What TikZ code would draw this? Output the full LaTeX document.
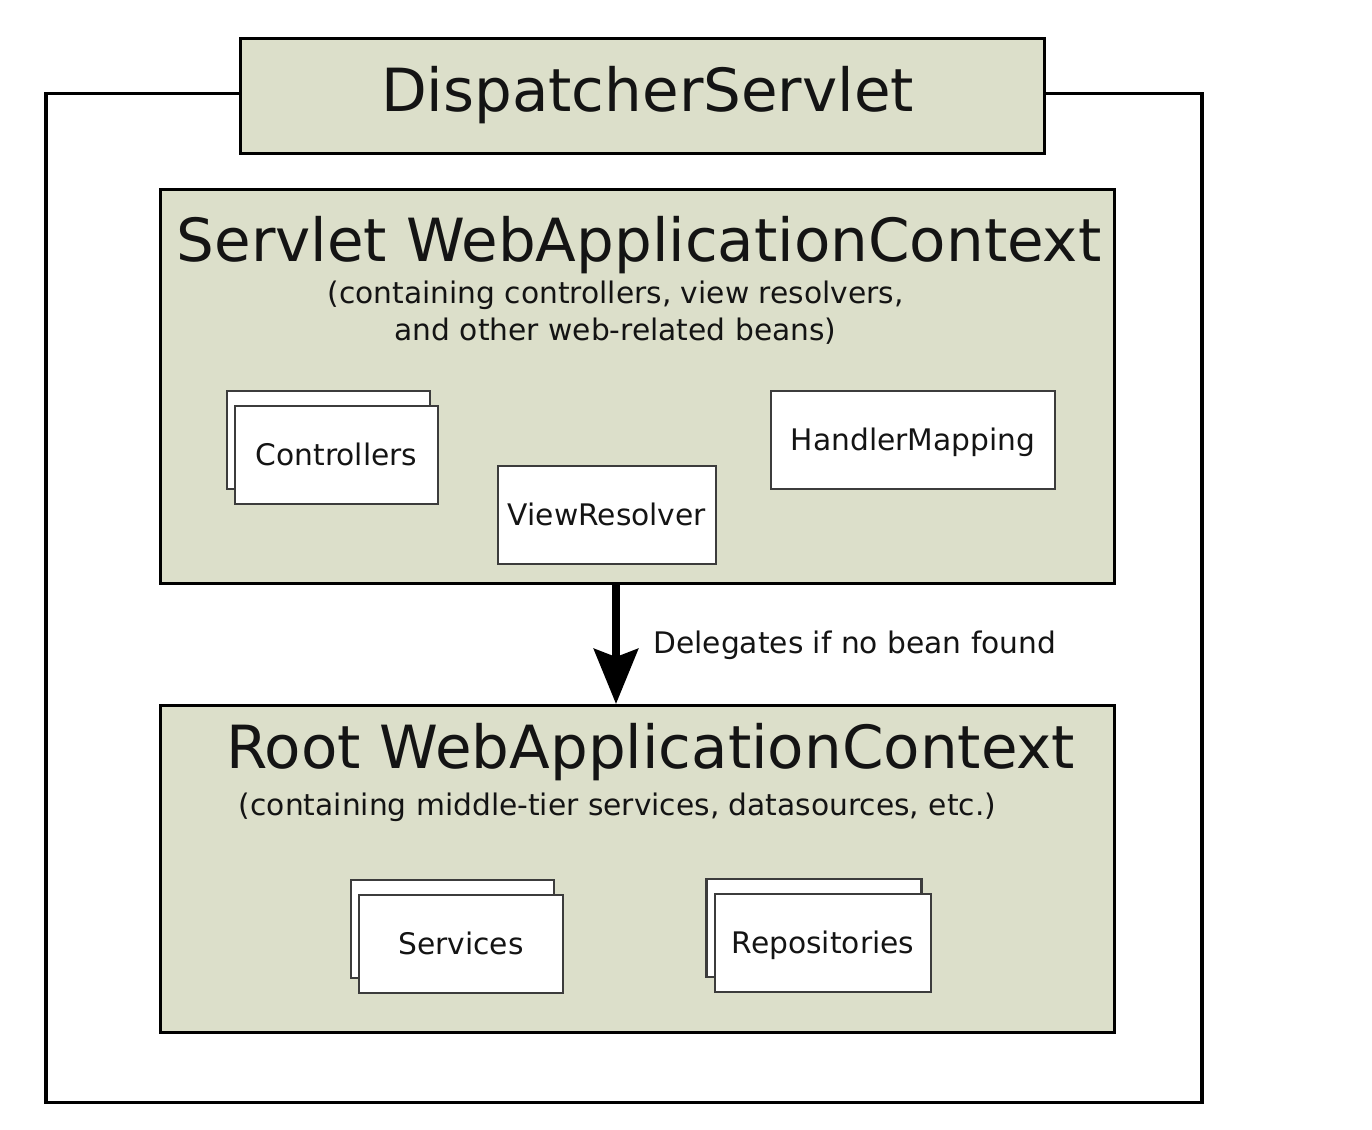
\documentclass[tikz,border=0pt]{standalone}
\usepackage{fontspec}
\setmainfont{DejaVu Sans}
\usetikzlibrary{arrows.meta}
\definecolor{ctxfill}{RGB}{220,223,202}
\definecolor{smallline}{RGB}{60,60,60}
\definecolor{txt}{RGB}{20,20,20}
\tikzset{
  bigfont/.style={font=\fontsize{29.75pt}{34pt}\selectfont, text=txt},
  smallfont/.style={font=\fontsize{14.85pt}{18pt}\selectfont, text=txt},
  ctxbox/.style={draw=black, line width=1.5pt, fill=ctxfill, rectangle, inner sep=0pt},
  beanbox/.style={draw=smallline, line width=1.1pt, fill=white, rectangle, inner sep=0pt,
    minimum height=49pt, smallfont, text height=10.8pt, text depth=0pt},
  outerframe/.style={draw=black, line width=1.8pt, rectangle, inner sep=0pt},
  titletext/.style={bigfont, anchor=base, inner sep=0pt},
  subtext/.style={smallfont, anchor=base, inner sep=0pt},
  delegarrow/.style={line width=4pt, -{Stealth[length=27.5pt,width=22pt,inset=4pt]}}
}
\begin{document}
\begin{tikzpicture}[x=0.5pt,y=-0.5pt]
\useasboundingbox[fill=white] (0,0) rectangle (1372,1130);
% outer frame
\node[outerframe, minimum width=578pt, minimum height=504.5pt] (frame) at (624,598) {};
% dispatcher servlet
\node[ctxbox, minimum width=402pt, minimum height=57.5pt] (disp) at (642.5,96) {};
\node[titletext] (disptitle) at (647.5,111) {DispatcherServlet};
% servlet context
\node[ctxbox, minimum width=477pt, minimum height=197pt] (servlet) at (637.5,386.5) {};
\node[titletext] (servlettitle) at (639,261) {Servlet WebApplicationContext};
\node[subtext] (servletsubA) at (615.5,303) {(containing controllers, view resolvers,};
\node[subtext] (servletsubB) at (615.5,340) {and other web-related beans)};
% beans in servlet context
\node[beanbox, minimum width=101.5pt] (ctrlback) at (328.5,440) {};
\node[beanbox, minimum width=101.5pt] (ctrl) at (336.5,455) {Controllers};
\node[beanbox, minimum width=109pt] (viewres) at (607,515) {ViewResolver};
\node[beanbox, minimum width=142pt] (handler) at (913,440) {HandlerMapping};
% root context
\node[ctxbox, minimum width=477pt, minimum height=163.5pt] (root) at (637.5,869) {};
\node[titletext] (roottitle) at (650.5,768) {Root WebApplicationContext};
\node[subtext] (rootsub) at (617.5,815) {(containing middle-tier services, datasources, etc.)};
% beans in root context
\node[beanbox, minimum width=101.5pt] (servback) at (452.5,929) {};
\node[beanbox, minimum width=102pt] (serv) at (461,944) {Services};
\node[beanbox, minimum width=107.5pt] (repoback) at (814,928) {};
\node[beanbox, minimum width=108pt] (repo) at (823,943) {Repositories};
% delegation arrow
\coordinate (ax) at (616,0);
\draw[delegarrow] (servlet.south -| ax) -- (root.north -| ax);
\node[subtext, anchor=base west] (delegtext) at (653,653) {Delegates if no bean found};
\end{tikzpicture}
\end{document}
